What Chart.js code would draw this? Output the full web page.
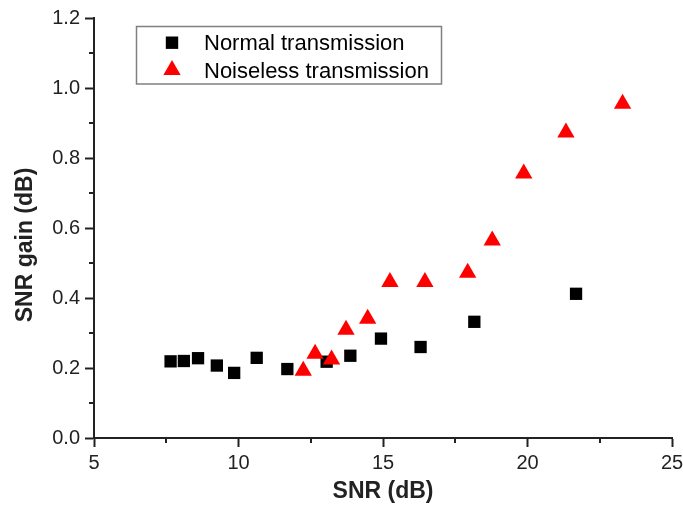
<!DOCTYPE html>
<html>
<head>
<meta charset="utf-8">
<script src="https://cdn.jsdelivr.net/npm/chart.js@4.4.0/dist/chart.umd.min.js"></script>
<style>
    html, body { margin: 0; padding: 0; background: #fff; }
    #wrap { width: 683px; height: 505px; }
</style>
</head>
<body>
<div id="wrap"><canvas id="snrChart" width="683" height="505"></canvas></div>
<script>
const normalSnr = [7.65, 8.11, 8.60, 9.25, 9.85, 10.63, 11.69, 13.05, 13.87, 14.93, 16.30, 18.16, 21.68];
const normalGain = [0.219, 0.220, 0.228, 0.207, 0.186, 0.229, 0.197, 0.218, 0.235, 0.284, 0.260, 0.332, 0.412];
const noiselessSnr = [12.24, 12.65, 13.22, 13.72, 14.47, 15.24, 16.45, 17.93, 18.78, 19.87, 21.33, 23.29];
const noiselessGain = [0.192, 0.241, 0.224, 0.309, 0.341, 0.446, 0.446, 0.472, 0.564, 0.756, 0.873, 0.955];

const seriesNames = ['Normal transmission', 'Noiseless transmission'];
const xTitle = 'SNR (dB)';
const yTitle = 'SNR gain (dB)';

const fontFamily = '"Liberation Sans", Arial, sans-serif';
const axisColor = '#222';

function toPoints(xs, ys) {
    return xs.map((x, i) => ({ x: x, y: ys[i] }));
}

// minor ticks halfway between the labelled ones
const minorTicks = {
    id: 'minorTicks',
    afterDraw(chart) {
        const ctx = chart.ctx;
        const xs = chart.scales.x;
        const ys = chart.scales.y;
        ctx.save();
        ctx.strokeStyle = axisColor;
        ctx.lineWidth = 2;
        ctx.beginPath();
        for (let v = 7.5; v < 25; v += 5) {
            const px = Math.round(xs.getPixelForValue(v));
            ctx.moveTo(px, ys.bottom);
            ctx.lineTo(px, ys.bottom + 5);
        }
        for (let v = 0.1; v < 1.2; v += 0.2) {
            const py = Math.round(ys.getPixelForValue(v));
            ctx.moveTo(xs.left, py);
            ctx.lineTo(xs.left - 5, py);
        }
        ctx.stroke();
        ctx.restore();
    }
};

const yAxisTitle = {
    id: 'yAxisTitle',
    afterDraw(chart) {
        const ctx = chart.ctx;
        ctx.save();
        ctx.translate(26, 245);
        ctx.rotate(-Math.PI / 2);
        ctx.font = 'bold 23px ' + fontFamily;
        ctx.fillStyle = axisColor;
        ctx.textAlign = 'center';
        ctx.textBaseline = 'middle';
        ctx.fillText(yTitle, 0, 0);
        ctx.restore();
    }
};

const boxLegend = {
    id: 'boxLegend',
    afterDraw(chart) {
        const ctx = chart.ctx;
        ctx.save();
        ctx.strokeStyle = '#808080';
        ctx.lineWidth = 1.5;
        ctx.strokeRect(136.5, 26.5, 305, 57.5);

        ctx.fillStyle = '#000';
        ctx.fillRect(172 - 6.2, 42.7 - 6.2, 12.4, 12.4);

        ctx.fillStyle = '#ff0000';
        ctx.beginPath();
        ctx.moveTo(172, 60);
        ctx.lineTo(172 + 8.66, 75);
        ctx.lineTo(172 - 8.66, 75);
        ctx.closePath();
        ctx.fill();

        ctx.fillStyle = '#000';
        ctx.font = '22px ' + fontFamily;
        ctx.textAlign = 'left';
        ctx.textBaseline = 'alphabetic';
        ctx.fillText(seriesNames[0], 204, 50);
        ctx.fillText(seriesNames[1], 204, 77.5);
        ctx.restore();
    }
};

function main() {
    const ctx = document.getElementById('snrChart').getContext('2d');
    new Chart(ctx, {
        type: 'scatter',
        data: {
            datasets: [{
                label: seriesNames[0],
                data: toPoints(normalSnr, normalGain),
                pointStyle: 'rect',
                pointRadius: 8.7,
                pointHoverRadius: 8.7,
                backgroundColor: '#000',
                borderColor: '#000',
                borderWidth: 0,
                order: 1
            }, {
                label: seriesNames[1],
                data: toPoints(noiselessSnr, noiselessGain),
                pointStyle: 'triangle',
                pointRadius: 10,
                pointHoverRadius: 10,
                backgroundColor: '#ff0000',
                borderColor: '#ff0000',
                borderWidth: 0,
                order: 0
            }]
        },
        options: {
            responsive: false,
            animation: false,
            layout: {
                padding: { top: 18, right: 11, left: 0, bottom: 0 }
            },
            plugins: {
                legend: { display: false },
                tooltip: { enabled: false }
            },
            scales: {
                x: {
                    type: 'linear',
                    min: 5,
                    max: 25,
                    afterFit: function(axis) {
                        axis.height = 67;
                        axis.paddingRight = 0;
                        axis.paddingLeft = 0;
                    },
                    ticks: {
                        stepSize: 5,
                        padding: 4,
                        color: axisColor,
                        font: { family: fontFamily, size: 20 }
                    },
                    grid: {
                        drawOnChartArea: false,
                        tickLength: 9,
                        tickWidth: 2,
                        tickColor: axisColor
                    },
                    border: { color: axisColor, width: 2 },
                    title: {
                        display: true,
                        text: xTitle,
                        color: axisColor,
                        padding: { top: 0, bottom: 0 },
                        font: { family: fontFamily, size: 23, weight: 'bold' }
                    }
                },
                y: {
                    min: 0,
                    max: 1.2,
                    afterFit: function(axis) { axis.width = 94; },
                    ticks: {
                        stepSize: 0.2,
                        padding: 5,
                        color: axisColor,
                        font: { family: fontFamily, size: 20 },
                        callback: function(value) {
                            return value.toFixed(1);
                        }
                    },
                    grid: {
                        drawOnChartArea: false,
                        tickLength: 9,
                        tickWidth: 2,
                        tickColor: axisColor
                    },
                    border: { color: axisColor, width: 2 }
                }
            }
        },
        plugins: [minorTicks, yAxisTitle, boxLegend]
    });
}

main();
</script>
</body>
</html>
